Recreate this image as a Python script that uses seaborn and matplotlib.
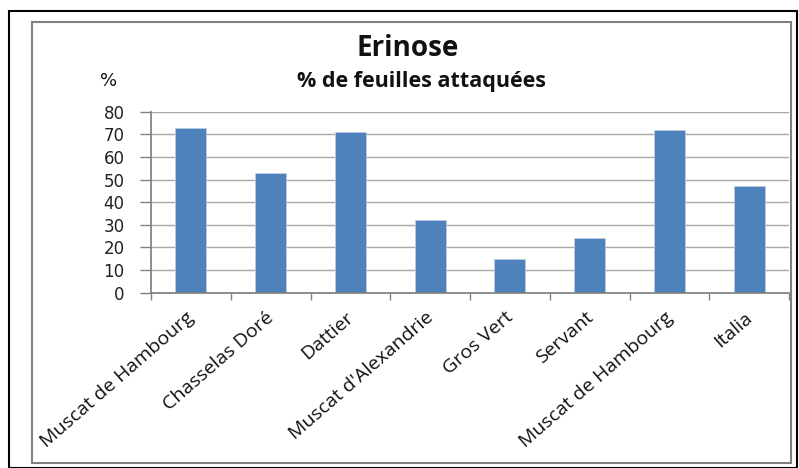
import matplotlib
matplotlib.use("Agg")
import matplotlib.pyplot as plt
import matplotlib.transforms as mtransforms
import seaborn as sns
import pandas as pd
from matplotlib.patches import Rectangle

categories = ["Muscat de Hambourg", "Chasselas Doré", "Dattier", "Muscat d'Alexandrie",
              "Gros Vert", "Servant", "Muscat de Hambourg", "Italia"]
values = [73, 53, 71, 32, 15, 24, 72, 47]
yticks = [0, 10, 20, 30, 40, 50, 60, 70, 80]
title = "Erinose"
subtitle = "% de feuilles attaquées"
ylabel = "%"

sns.set_theme(style="white")
plt.rcParams['font.family'] = ['DejaVu Sans']

W, H = 799, 468
fig = plt.figure(figsize=(W / 100, H / 100), dpi=100)
fig.patch.set_facecolor("white")

# outer and inner frames
fig.add_artist(Rectangle((9 / W, 0 / H), (797 - 9) / W, (468 - 11) / H, transform=fig.transFigure,
                         fill=False, edgecolor="black", linewidth=1.5))
fig.add_artist(Rectangle((32 / W, (468 - 463) / H), (791 - 32) / W, (463 - 22) / H, transform=fig.transFigure,
                         fill=False, edgecolor="#808080", linewidth=1.5))

ax = fig.add_axes([151 / W, 1 - 292.7 / H, (789 - 151) / W, (292.7 - 111.7) / H])
df = pd.DataFrame({"idx": list(range(len(categories))), "val": values})
sns.barplot(data=df, x="idx", y="val", color="#4F81BD", saturation=1, width=0.39, ax=ax,
            edgecolor="#B9CDE5", linewidth=0.6)
ax.set_xlim(-0.5, len(categories) - 0.5)
ax.set_ylim(yticks[0], yticks[-1])
ax.set_yticks(yticks)
ax.set_yticklabels([str(t) for t in yticks], fontsize=12, color="#222222")
ax.yaxis.grid(True, color="#A8A8A8", linewidth=1)
ax.set_axisbelow(True)
ax.set_xticks([i - 0.5 for i in range(len(categories) + 1)], minor=True)
ax.set_xticks(range(len(categories)))
ax.set_xticklabels(categories, rotation=41, ha="right", rotation_mode="anchor",
                   fontsize=14, family="Open Sans", color="#111111")
ax.tick_params(axis="x", which="major", length=0, pad=9)
ax.tick_params(axis="x", which="minor", length=5, color="#808080", width=1, direction="out", bottom=True)
ax.tick_params(axis="y", length=8, color="#808080", width=1, left=True, pad=11)
ax.set_xlabel("")
ax.set_ylabel("")
for s in ["top", "right"]:
    ax.spines[s].set_visible(False)
ax.spines["left"].set_color("#808080")
ax.spines["bottom"].set_color("#808080")

offset = mtransforms.ScaledTranslation(-5 / 100, -3 / 100, fig.dpi_scale_trans)
for lab in ax.get_xticklabels():
    lab.set_transform(lab.get_transform() + offset)

fig.text(407.5 / W, 1 - 48 / H, title, ha="center", va="center", fontsize=20, fontweight="bold",
         family="Open Sans", color="#111111")
fig.text(422 / W, 1 - 81 / H, subtitle, ha="center", va="center", fontsize=15.5, fontweight="bold",
         family="Open Sans", color="#111111")
fig.text(109 / W, 1 - 81 / H, ylabel, ha="center", va="center", fontsize=13, color="#111111")

fig.savefig("out.png", dpi=100)
